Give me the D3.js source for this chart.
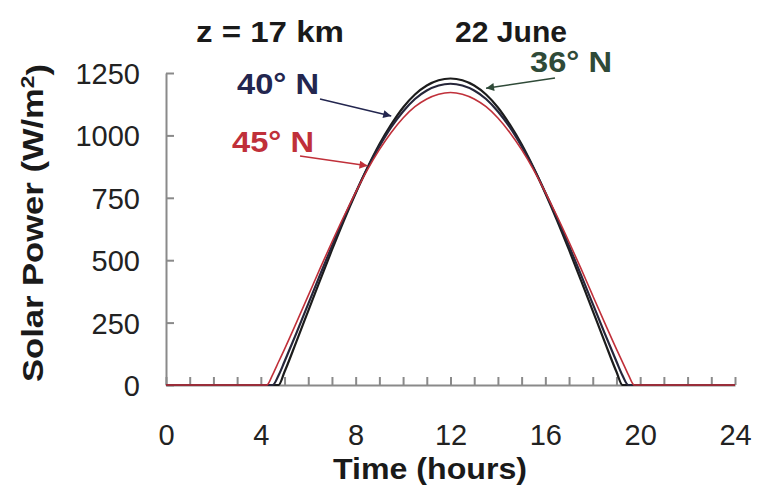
<!DOCTYPE html>
<html lang="en">
<head>
    <meta charset="utf-8">
    <title>Solar Power 22 June</title>
    <script src="https://cdnjs.cloudflare.com/ajax/libs/d3/7.8.5/d3.min.js"></script>
    <style>
        body { margin: 0; background: #fff; }
        svg text { font-family: "Liberation Sans", Arial, sans-serif; }
        .axis path, .axis line { stroke: #8a8a8a; stroke-width: 2; }
        .axis text { font-size: 29px; fill: #222; }
        .title { font-size: 29px; font-weight: bold; fill: #1a1a1a; }
        .lab { font-size: 29px; font-weight: bold; }
    </style>
</head>
<body>
<div id="chart"></div>
<script>
    // time of day (hours)
    var hours = [0, 4, 4.25, 4.5, 4.75, 5, 5.5, 6, 6.5, 7, 7.5, 8, 8.5, 9, 9.5, 10, 10.5, 11, 11.5, 12,
                 12.5, 13, 13.5, 14, 14.5, 15, 15.5, 16, 16.5, 17, 17.5, 18, 18.5, 19, 19.25, 19.5, 19.75, 20, 24];

    // solar power W/m^2
    var lat36 = [0, 0, 0, 0, 0, 53, 174, 297, 420, 541, 658, 768, 871, 964, 1044, 1112, 1164, 1200, 1221, 1228,
                 1221, 1200, 1164, 1112, 1044, 964, 871, 768, 658, 541, 420, 297, 174, 53, 0, 0, 0, 0, 0];
    var lat40 = [0, 0, 0, 0, 39, 94, 208, 325, 442, 557, 667, 771, 869, 956, 1033, 1096, 1146, 1180, 1200, 1207,
                 1200, 1180, 1146, 1096, 1033, 956, 869, 771, 667, 557, 442, 325, 208, 94, 39, 0, 0, 0, 0];
    var lat45 = [0, 0, 0, 42, 93, 144, 250, 358, 467, 573, 675, 772, 863, 943, 1012, 1070, 1115, 1146, 1165, 1172,
                 1165, 1146, 1115, 1070, 1012, 943, 863, 772, 675, 573, 467, 358, 250, 144, 93, 42, 0, 0, 0];

    var yTicks = [0, 250, 500, 750, 1000, 1250];
    var xLabels = [0, 4, 8, 12, 16, 20, 24];

    var svg = d3.select("#chart").append("svg")
        .attr("width", 770)
        .attr("height", 488);

    var x = d3.scaleLinear().domain([0, 24]).range([166, 735]);
    var y = d3.scaleLinear().domain([0, 1250]).range([385, 73]);

    svg.append("g")
        .attr("class", "axis")
        .attr("transform", "translate(166,0)")
        .call(d3.axisLeft(y).tickValues(yTicks).tickFormat(d3.format("d"))
            .tickSizeInner(-8).tickSizeOuter(0).tickPadding(26))
        .selectAll("text").attr("dy", "0.36em");

    svg.append("g")
        .attr("class", "axis")
        .attr("transform", "translate(0,385)")
        .call(d3.axisBottom(x).tickValues(d3.range(0, 25)).tickSizeInner(-8).tickSizeOuter(0).tickPadding(39)
            .tickFormat(function(d) { return xLabels.indexOf(d) > -1 ? d : ""; }));

    var line = function(vals) {
        return d3.line()
            .x(function(d, i) { return x(hours[i]); })
            .y(function(d) { return y(d); })
            .curve(d3.curveMonotoneX)(vals);
    };

    svg.append("path").attr("d", line(lat36)).attr("fill", "none").attr("stroke", "#1c1c1c").attr("stroke-width", 2.2);
    svg.append("path").attr("d", line(lat40)).attr("fill", "none").attr("stroke", "#26263a").attr("stroke-width", 2.2);
    svg.append("path").attr("d", line(lat45)).attr("fill", "none").attr("stroke", "#c0303a").attr("stroke-width", 1.6);

    // titles
    svg.append("text").attr("class", "title").attr("x", 270).attr("y", 42).attr("text-anchor", "middle")
        .attr("textLength", 148).attr("lengthAdjust", "spacingAndGlyphs").text("z = 17 km");
    svg.append("text").attr("class", "title").attr("x", 511).attr("y", 42).attr("text-anchor", "middle")
        .attr("textLength", 112).attr("lengthAdjust", "spacingAndGlyphs").text("22 June");
    svg.append("text").attr("class", "title").attr("x", 430).attr("y", 479).attr("text-anchor", "middle")
        .attr("textLength", 194).attr("lengthAdjust", "spacingAndGlyphs").text("Time (hours)");

    // y axis title
    var yt = svg.append("text").attr("class", "title")
        .attr("transform", "translate(43,223) rotate(-90)")
        .attr("text-anchor", "middle");
    yt.append("tspan").text("Solar Power (W/m");
    yt.append("tspan").attr("dy", "-0.5em").style("font-size", "19px").text("2");
    yt.append("tspan").attr("dy", "0.5em").text(")");
    yt.attr("textLength", 318).attr("lengthAdjust", "spacingAndGlyphs");

    // arrow markers
    var defs = svg.append("defs");
    [["a36", "#2f4a38"], ["a40", "#23264f"], ["a45", "#c0303a"]].forEach(function(m) {
        defs.append("marker")
            .attr("id", m[0])
            .attr("viewBox", "0 0 10 10")
            .attr("refX", 10).attr("refY", 5)
            .attr("markerWidth", 11).attr("markerHeight", 8)
            .attr("markerUnits", "userSpaceOnUse")
            .attr("orient", "auto")
            .append("path").attr("d", "M0,0 L10,5 L0,10 z").attr("fill", m[1]);
    });

    // annotations, arrow tips point at data points
    var notes = [
        { text: "40° N", color: "#23264f", tx: 278, ty: 94, x1: 320, y1: 99, h: 9.5, v: lat40[14] + 45, m: "a40" },
        { text: "45° N", color: "#c0303a", tx: 273, ty: 152, x1: 300, y1: 156, h: 8.5, v: lat45[12] + 15, m: "a45" },
        { text: "36° N", color: "#2f4a38", tx: 571, ty: 72, x1: 555, y1: 78, h: 13.5, v: lat36[22] + 25, m: "a36" }
    ];

    notes.forEach(function(n) {
        svg.append("text").attr("class", "lab").attr("x", n.tx).attr("y", n.ty)
            .attr("text-anchor", "middle").attr("fill", n.color)
            .attr("textLength", 82).attr("lengthAdjust", "spacingAndGlyphs").text(n.text);
        svg.append("line")
            .attr("x1", n.x1).attr("y1", n.y1)
            .attr("x2", x(n.h)).attr("y2", y(n.v))
            .attr("stroke", n.color).attr("stroke-width", 1.5)
            .attr("marker-end", "url(#" + n.m + ")");
    });
</script>
</body>
</html>
